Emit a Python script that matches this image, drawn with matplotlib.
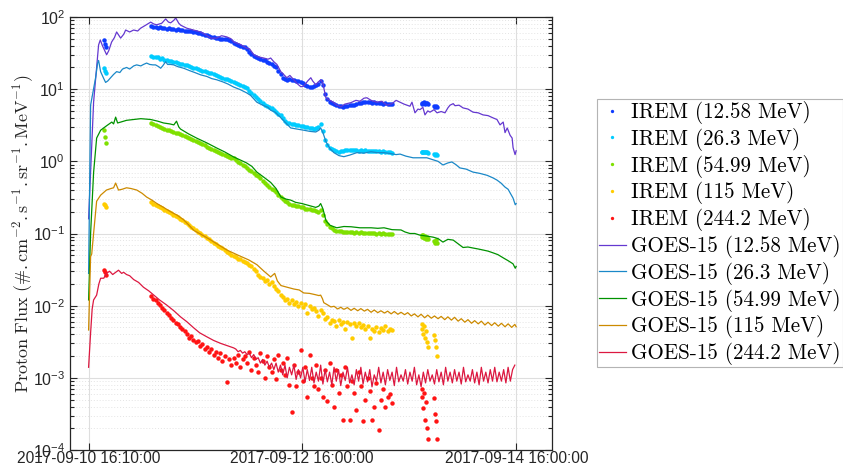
import numpy as np
import pandas as pd
import matplotlib
matplotlib.use("Agg")
import matplotlib.pyplot as plt
import matplotlib.dates as mdates
from matplotlib.ticker import LogLocator, LogFormatterSciNotation, NullFormatter, FixedLocator
from matplotlib.font_manager import FontProperties

plt.rcParams["font.family"] = "Liberation Sans"
plt.rcParams["mathtext.fontset"] = "custom"
plt.rcParams["mathtext.rm"] = "Liberation Sans"
plt.rcParams["mathtext.it"] = "Liberation Sans:italic"
plt.rcParams["mathtext.bf"] = "Liberation Sans:bold"

# time origin: 2017-09-10 16:10:00, all times below in hours from it
t0 = pd.Timestamp("2017-09-10 16:10:00")

# ---------------- IREM (shared sampling) ----------------
irem_hours = np.concatenate([[3.4, 3.6, 3.8],
                             np.arange(14.0, 68.25, 0.5),
                             [74.6, 74.8, 75.0, 75.2, 75.4, 75.6, 75.8, 76.0, 77.4, 77.6, 77.8, 78.0]])

irem_1258 = [48, 42, 38,
             74, 72, 73, 71, 72, 70, 71, 69, 70, 68,
             69, 67, 68, 66, 67, 65, 64, 63, 63, 61,
             62, 60, 60, 58, 57, 56, 55, 53, 53, 51,
             51, 50, 50, 49, 49, 48, 46, 44, 42, 41,
             40, 39, 38, 36, 33, 31, 29, 28, 27, 26,
             25, 25, 24, 23, 22, 21, 20, 18, 16, 14.5,
             14, 13.5, 13.8, 13.2, 13.5, 13, 12.8, 12.6, 12, 11.5,
             11.2, 10.8, 10.7, 11, 11.3, 11.8, 12.8, 11.5, 8.5, 7.3,
             6.7, 6.4, 6.2, 6.0, 5.8, 5.9, 5.7, 5.8, 5.9, 6.0,
             6.1, 6.0, 6.3, 6.4, 6.5, 6.6, 6.7, 6.6, 6.7, 6.5,
             6.6, 6.5, 6.4, 6.5, 6.3, 6.4, 6.2, 6.3, 6.2,
             6.3, 6.5, 6.4, 6.6, 6.3, 6.5, 6.4, 6.2, 5.8, 5.6, 5.9, 5.7]

irem_263 = [19.5, 18, 17,
            28.5, 28, 27.5, 27.8, 26.5, 26.8, 25.5, 25.5, 24.8, 24.5,
            24, 23.5, 23.2, 22.6, 22.3, 21.8, 21.3, 20.8, 20.3, 19.8,
            19.5, 18.9, 18.6, 18.1, 17.6, 17.3, 16.9, 16.5, 16.1, 15.8,
            15.3, 14.9, 14.5, 14.0, 13.7, 13.3, 12.9, 12.6, 12.1, 11.7,
            11.3, 10.9, 10.6, 10.3, 9.5, 8.8, 8.2, 7.8, 7.3, 6.9,
            6.5, 6.1, 5.8, 5.6, 5.4, 5.1, 4.8, 4.6, 4.4, 4.0,
            3.6, 3.4, 3.35, 3.3, 3.25, 3.2, 3.15, 3.1, 3.05, 3.0,
            2.95, 2.9, 2.9, 2.85, 2.9, 3.0, 3.3, 2.6, 2.0, 1.7,
            1.55, 1.48, 1.42, 1.38, 1.36, 1.38, 1.40, 1.42, 1.44, 1.43,
            1.45, 1.42, 1.44, 1.41, 1.43, 1.40, 1.42, 1.39, 1.40, 1.38,
            1.39, 1.37, 1.38, 1.36, 1.37, 1.35, 1.34, 1.33, 1.31,
            1.33, 1.35, 1.34, 1.36, 1.33, 1.35, 1.34, 1.32, 1.25, 1.23, 1.26, 1.24]

irem_5499 = [2.7, 2.2, 1.8,
             3.4, 3.3, 3.2, 3.1, 3.0, 2.9, 2.8, 2.75, 2.7, 2.65,
             2.55, 2.5, 2.45, 2.4, 2.35, 2.28, 2.2, 2.12, 2.05, 2.0,
             1.93, 1.87, 1.8, 1.73, 1.66, 1.6, 1.54, 1.48, 1.43, 1.38,
             1.33, 1.29, 1.25, 1.21, 1.18, 1.15, 1.13, 1.1, 1.04, 0.99,
             0.94, 0.9, 0.86, 0.82, 0.77, 0.73, 0.69, 0.65, 0.62, 0.58,
             0.54, 0.5, 0.47, 0.44, 0.42, 0.40, 0.37, 0.34, 0.32, 0.30,
             0.28, 0.27, 0.26, 0.25, 0.25, 0.24, 0.24, 0.23, 0.23, 0.22,
             0.22, 0.22, 0.21, 0.21, 0.205, 0.20, 0.21, 0.18, 0.15, 0.135,
             0.125, 0.118, 0.113, 0.11, 0.108, 0.107, 0.106, 0.105, 0.106, 0.104,
             0.105, 0.103, 0.104, 0.103, 0.104, 0.102, 0.103, 0.102, 0.101, 0.103,
             0.101, 0.100, 0.102, 0.100, 0.101, 0.099, 0.100, 0.099, 0.098,
             0.094, 0.090, 0.096, 0.088, 0.092, 0.085, 0.089, 0.083, 0.078, 0.074, 0.080, 0.075]

irem_115 = [0.26, 0.245, 0.23,
            0.27, 0.26, 0.25, 0.24, 0.235, 0.225, 0.215, 0.205, 0.20, 0.19,
            0.182, 0.175, 0.168, 0.16, 0.153, 0.146, 0.139, 0.132, 0.125, 0.118,
            0.112, 0.106, 0.101, 0.096, 0.091, 0.087, 0.083, 0.078, 0.074, 0.071,
            0.068, 0.065, 0.062, 0.059, 0.056, 0.054, 0.051, 0.049, 0.047, 0.045,
            0.044, 0.042, 0.040, 0.039, 0.037, 0.035, 0.032, 0.030, 0.027, 0.025,
            0.024, 0.022, 0.023, 0.020, 0.021, 0.019, 0.017, 0.016, 0.014, 0.013,
            0.012, 0.0125, 0.011, 0.0118, 0.0105, 0.0112, 0.0100, 0.0108, 0.0095, 0.0104,
            0.0078, 0.0098, 0.0090, 0.0093, 0.0085, 0.0072, 0.0088, 0.0078, 0.0066, 0.0070,
            0.0058, 0.0064, 0.0061, 0.0052, 0.0063, 0.0056, 0.0060, 0.0048, 0.0059, 0.0055,
            0.0036, 0.0057, 0.0053, 0.0058, 0.0050, 0.0054, 0.0047, 0.0052, 0.0036, 0.0048,
            0.0045, 0.0051, 0.0043, 0.0049, 0.0046, 0.0052, 0.0044, 0.0048, 0.0046,
            0.0055, 0.0047, 0.0041, 0.0052, 0.0036, 0.0044, 0.0031, 0.0027, 0.0039, 0.0033, 0.0027, 0.0020]

irem_2442 = [0.031, 0.029, 0.027,
             0.0135, 0.0125, 0.0118, 0.0108, 0.0102, 0.0094, 0.0086, 0.0080, 0.0074, 0.0068,
             0.0064, 0.0058, 0.0055, 0.0050, 0.0047, 0.0044, 0.0041, 0.0036, 0.0038, 0.0033,
             0.0031, 0.0032, 0.0028, 0.0029, 0.0025, 0.0027, 0.0023, 0.0025, 0.0021, 0.0023,
             0.0019, 0.0022, 0.0017, 0.0020, 0.00087, 0.0018, 0.0015, 0.0019, 0.0016, 0.0021,
             0.0014, 0.0018, 0.0020, 0.0016, 0.0023, 0.0013, 0.0019, 0.0015, 0.0012, 0.0022,
             0.0017, 0.0010, 0.0020, 0.0014, 0.0012, 0.0018, 0.00095, 0.0021, 0.0013, 0.0016,
             0.0011, 0.0019, 0.0008, 0.00034, 0.0015, 0.00076, 0.0012, 0.0024, 0.0009, 0.0014,
             0.00055, 0.0021, 0.0010, 0.00076, 0.0015, 0.0007, 0.0010, 0.00055, 0.0013, 0.00047,
             0.0016, 0.0008, 0.0004, 0.0013, 0.00062, 0.0011, 0.00026, 0.0014, 0.00076, 0.00026,
             0.0009, 0.00062, 0.00036, 0.0012, 0.00076, 0.00025, 0.00049, 0.0010, 0.00066, 0.00026,
             0.0004, 0.00085, 0.00019, 0.00049, 0.0007, 0.0004, 0.00055, 0.0006, 0.00045,
             0.00069, 0.00055, 0.00038, 0.00062, 0.00026, 0.00046, 0.00020, 0.00014, 0.00053, 0.00032, 0.00025, 0.00014]

# ---------------- GOES-15 (hour, flux) ----------------
goes_1258 = [(0, 0.16), (1.12, 6.6), (2.24, 41), (2.62, 48), (3.1, 40), (4.04, 30), (4.5, 34), (5.16, 45),
             (5.8, 52), (6.28, 62), (7.18, 51), (7.9, 58), (8.3, 66), (9.2, 62), (10.09, 66), (11.0, 64),
             (11.66, 70), (12.79, 77), (13.91, 85), (14.6, 80), (15.25, 78), (16.4, 82), (17.27, 94),
             (17.9, 85), (18.39, 83), (19.1, 90), (19.52, 97), (20.2, 82), (20.64, 77), (21.98, 70),
             (23.5, 66), (25.12, 62), (26.2, 57), (27.37, 51), (28.71, 51), (29.8, 55), (30.96, 53),
             (31.9, 50), (32.53, 45), (33.9, 42), (35.44, 37), (36.1, 36), (37.01, 30), (38.1, 28),
             (39.25, 27), (40.2, 26), (40.8, 27), (41.5, 24), (42.2, 22), (43.07, 17.5), (43.7, 16),
             (44.41, 14.4), (45.1, 15.5), (45.98, 13.5), (46.7, 12), (47.55, 10.8), (48.2, 11),
             (49.1, 13), (49.79, 14.4), (50.2, 13), (50.91, 11.5), (51.4, 12.5), (52.04, 13.5),
             (52.5, 12), (53.16, 7.6), (54.1, 7), (54.96, 6.5), (55.6, 6.0), (56.53, 5.7), (57.4, 6.2),
             (58.77, 6.5), (59.9, 7), (60.8, 6.8), (61.7, 7.5), (62.36, 7.6), (63.3, 7.0), (64.6, 6.6),
             (65.7, 6.8), (66.85, 6.0), (68.0, 6.3), (68.9, 7), (69.99, 6.5), (70.7, 6.2), (71.34, 6.0),
             (72.0, 5.8), (72.46, 6.6), (73.13, 4.7), (73.8, 5.3), (74.25, 5.2), (74.9, 5.6),
             (75.37, 4.4), (76.0, 5.0), (76.49, 4.8), (77.4, 5.2), (78.07, 4.7), (79.0, 4.9),
             (79.86, 4.7), (80.5, 5.5), (80.98, 6.0), (81.7, 6.3), (82.1, 5.9), (83.0, 6.0), (83.9, 5.5),
             (85.0, 5.3), (86.14, 4.8), (87.3, 4.7), (88.38, 4.4), (89.5, 4.3), (90.62, 4.0), (91.5, 3.8),
             (92.19, 3.2), (92.9, 3.5), (93.31, 2.5), (93.8, 2.9), (94.44, 2.3), (94.9, 2.1),
             (95.11, 1.55), (95.56, 1.24), (95.8, 1.4)]

goes_263 = [(0, 0.028), (0.45, 6.0), (1.57, 14.4), (2.02, 23), (2.24, 25), (2.69, 17.5), (3.4, 14),
            (3.81, 12.4), (4.3, 13), (4.93, 14.4), (5.6, 16), (6.28, 17.5), (7.0, 17), (7.6, 19),
            (8.52, 20), (9.2, 19), (10.1, 21), (10.77, 21.7), (11.7, 21), (12.3, 22), (13.0, 23),
            (13.7, 22), (14.4, 21.7), (15.0, 21.7), (15.7, 20.5), (16.15, 19.5), (16.6, 21), (17.27, 24),
            (17.7, 22), (18.4, 22), (19.07, 21.7), (20.0, 20.5), (21.3, 19.5), (22.7, 18), (23.8, 17),
            (25.1, 15.8), (26.5, 15), (27.6, 14), (28.7, 13.5), (30.1, 12.6), (31.2, 11.8), (32.5, 10.7),
            (33.9, 9.9), (35.4, 8.9), (36.3, 8.2), (37.7, 6.6), (39.0, 6.0), (40.2, 5.6), (40.8, 5.1),
            (41.8, 4.8), (43.1, 4.0), (44.2, 3.4), (45.3, 2.9), (46.7, 2.8), (48.2, 2.7), (49.6, 2.6),
            (50.9, 2.55), (51.6, 2.7), (52.0, 2.9), (52.5, 2.5), (53.2, 1.86), (54.1, 1.5), (54.96, 1.32),
            (56.1, 1.2), (57.2, 1.16), (58.5, 1.22), (60.1, 1.32), (61.7, 1.3), (63.3, 1.36), (64.6, 1.32),
            (66.2, 1.32), (67.7, 1.28), (68.9, 1.24), (69.8, 1.26), (71.1, 1.18), (72.7, 1.12),
            (74.2, 1.12), (75.8, 1.12), (77.2, 1.05), (78.3, 1.0), (79.4, 0.89), (80.5, 0.95),
            (81.4, 0.98), (82.3, 0.9), (83.2, 0.81), (84.6, 0.78), (86.1, 0.71), (87.7, 0.68),
            (89.3, 0.64), (90.6, 0.59), (91.5, 0.55), (92.4, 0.50), (93.3, 0.44), (94.0, 0.41),
            (94.4, 0.37), (95.1, 0.31), (95.6, 0.25), (95.8, 0.26)]

goes_5499 = [(0, 0.012), (0.45, 0.1), (1.12, 0.7), (1.8, 2.1), (2.7, 2.7), (4.0, 3.1), (5.2, 3.5), (5.6, 3.3),
             (6.06, 4.1), (6.5, 3.4), (7.2, 3.5), (8.5, 3.7), (10.1, 3.8), (11.7, 3.9), (13.9, 3.8),
             (15.5, 3.6), (16.8, 3.4), (18.2, 3.3), (19.1, 3.2), (19.7, 3.6), (20.2, 3.0), (20.6, 2.8),
             (22.4, 2.4), (24.2, 2.1), (26.5, 1.8), (28.7, 1.53), (30.5, 1.35), (32.5, 1.15), (33.9, 1.05),
             (35.4, 0.95), (36.6, 0.85), (37.7, 0.71), (39.3, 0.6), (40.8, 0.51), (42.0, 0.42), (43.1, 0.32),
             (44.2, 0.3), (45.3, 0.29), (46.4, 0.27), (47.8, 0.26), (49.3, 0.245), (50.9, 0.23),
             (51.6, 0.24), (52.0, 0.26), (52.5, 0.22), (53.2, 0.15), (54.1, 0.13), (55.6, 0.12),
             (57.2, 0.125), (58.8, 0.124), (60.8, 0.12), (63.3, 0.12), (64.8, 0.118), (66.2, 0.12),
             (68.0, 0.113), (70.0, 0.112), (70.9, 0.105), (72.0, 0.10), (73.1, 0.1), (74.2, 0.095),
             (75.8, 0.092), (77.2, 0.089), (78.3, 0.085), (79.4, 0.076), (80.5, 0.083), (81.7, 0.081),
             (82.8, 0.072), (83.9, 0.064), (85.0, 0.065), (86.1, 0.063), (87.3, 0.061), (88.4, 0.059),
             (89.5, 0.057), (90.6, 0.054), (91.7, 0.051), (92.9, 0.046), (94.0, 0.042), (95.1, 0.038),
             (95.6, 0.033), (95.8, 0.035)]

goes_115 = [(0, 0.0046), (0.45, 0.048), (0.7, 0.052), (1.12, 0.1), (1.8, 0.28), (2.7, 0.34), (4.0, 0.40),
            (5.0, 0.42), (5.6, 0.43), (6.06, 0.50), (6.7, 0.40), (7.5, 0.41), (8.5, 0.43), (9.5, 0.42),
            (10.8, 0.40), (12.0, 0.36), (13.0, 0.32), (14.2, 0.29), (15.3, 0.26), (16.8, 0.23),
            (18.4, 0.20), (19.8, 0.18), (21.3, 0.155), (22.5, 0.13), (23.6, 0.11), (25.5, 0.095),
            (27.4, 0.081), (29.2, 0.069), (31.0, 0.059), (33.5, 0.050), (35.9, 0.043), (37.7, 0.037),
            (39.3, 0.030), (40.8, 0.025), (41.4, 0.027), (41.7, 0.028), (42.3, 0.022), (43.1, 0.019),
            (44.5, 0.018), (46.0, 0.017), (47.2, 0.0165), (48.2, 0.015), (49.5, 0.0148), (50.8, 0.0142),
            (51.6, 0.0138), (52.0, 0.014), (52.4, 0.0125), (52.7, 0.011), (53.5, 0.0103), (54.3, 0.0096),
            (55.0, 0.0098), (55.8, 0.0090), (56.5, 0.0095), (57.2, 0.0089), (58.0, 0.0094), (58.8, 0.0086),
            (59.5, 0.0092), (60.3, 0.0085), (61.0, 0.0091), (61.8, 0.0084), (62.5, 0.0089), (63.3, 0.0081),
            (64.0, 0.0087), (64.8, 0.0080), (65.5, 0.0085), (66.3, 0.0079), (67.0, 0.0084), (67.8, 0.0077),
            (68.5, 0.0083), (69.3, 0.0076), (70.0, 0.0081), (70.8, 0.0075), (71.5, 0.0080), (72.3, 0.0072),
            (73.0, 0.0077), (73.8, 0.0070), (74.5, 0.0076), (75.3, 0.0068), (76.0, 0.0074), (76.8, 0.0067),
            (77.5, 0.0072), (78.3, 0.0066), (79.0, 0.0071), (79.8, 0.0064), (80.5, 0.0070), (81.3, 0.0063),
            (82.0, 0.0069), (82.8, 0.0061), (83.5, 0.0066), (84.3, 0.0059), (85.0, 0.0064), (85.8, 0.0057),
            (86.5, 0.0062), (87.3, 0.0056), (88.0, 0.0061), (88.8, 0.0054), (89.5, 0.0059), (90.3, 0.0053),
            (91.0, 0.0058), (91.8, 0.0052), (92.5, 0.0057), (93.3, 0.0051), (94.0, 0.0056), (94.8, 0.0050),
            (95.5, 0.0055), (95.8, 0.0051)]

goes_2442_head = [(0, 0.0014), (0.45, 0.0042), (0.8, 0.009), (1.12, 0.012), (1.8, 0.014), (2.3, 0.02),
                  (2.7, 0.024), (3.4, 0.024), (4.0, 0.028), (4.7, 0.030), (5.4, 0.027), (6.06, 0.029),
                  (6.7, 0.031), (7.4, 0.028), (7.85, 0.029), (8.5, 0.027), (9.2, 0.026), (10.1, 0.023),
                  (11.2, 0.021), (12.3, 0.018), (13.5, 0.016), (14.6, 0.014), (15.9, 0.012), (17.5, 0.0102),
                  (19.1, 0.0085), (20.6, 0.0070), (22.0, 0.006), (23.6, 0.0049), (24.9, 0.0042),
                  (26.5, 0.0037), (28.0, 0.0033), (29.6, 0.0030), (31.0, 0.0028), (32.5, 0.0026)]
# half-hourly from 33.0 h to 95.5 h
goes_2442_tail = [0.0025, 0.0023, 0.0024, 0.0022, 0.0023, 0.0021, 0.0022, 0.0019, 0.0021, 0.0018,
                  0.0019, 0.0016, 0.0018, 0.0015, 0.0017, 0.0014, 0.0016, 0.0013, 0.0016, 0.0012,
                  0.0015, 0.0011, 0.0015, 0.0010, 0.0014, 0.0011, 0.0015, 0.00095, 0.0013, 0.0010,
                  0.0014, 0.00088, 0.0013, 0.00092, 0.0014, 0.00085, 0.0012, 0.0009, 0.0015, 0.00082,
                  0.0013, 0.00088, 0.0012, 0.0008, 0.0014, 0.0009, 0.0013, 0.00078, 0.0012, 0.00092,
                  0.0014, 0.00085, 0.0011, 0.0008, 0.0013, 0.0009, 0.0014, 0.00082, 0.0012, 0.00088,
                  0.0013, 0.00075, 0.0011, 0.0009, 0.0014, 0.00085, 0.0012, 0.0008, 0.0013, 0.00092,
                  0.0012, 0.00078, 0.0014, 0.00088, 0.0011, 0.0009, 0.0013, 0.00082, 0.0012, 0.0009,
                  0.0014, 0.0008, 0.0011, 0.00075, 0.0012, 0.00085, 0.0013, 0.0009, 0.0011, 0.00082,
                  0.0013, 0.00088, 0.0012, 0.0008, 0.0014, 0.0009, 0.0012, 0.00085, 0.0013, 0.0009,
                  0.0012, 0.00082, 0.0014, 0.00088, 0.0011, 0.0009, 0.0013, 0.00085, 0.0012, 0.0008,
                  0.0014, 0.0009, 0.0012, 0.00085, 0.0013, 0.0009, 0.0014, 0.00088, 0.0012, 0.0009,
                  0.0013, 0.00085, 0.0014, 0.0009, 0.0013, 0.0015]
goes_2442_tail_hours = np.arange(33.0, 96.0, 0.5)

energies = ["12.58", "26.3", "54.99", "115", "244.2"]
irem_colors = ["#0f3cff", "#00ccff", "#7fe000", "#ffcc00", "#ff1414"]
goes_colors = ["#6438d0", "#1a88c8", "#009200", "#cc8a00", "#dc1840"]


def to_time(hours):
    return t0 + pd.to_timedelta(np.asarray(hours, dtype=float), unit="h")


fig = plt.figure(figsize=(8.43, 4.74), dpi=100)
ax = fig.add_axes([70 / 843, 24 / 474, 482 / 843, 433 / 474])

irem_series = [irem_1258, irem_263, irem_5499, irem_115, irem_2442]
irem_time = to_time(irem_hours)
for e, vals, c in zip(energies, irem_series, irem_colors):
    ax.plot(irem_time, vals, ls="none", marker="o", ms=3.2, mew=0, color=c,
            label=f"IREM ({e} MeV)")

g2442_h = [h for h, v in goes_2442_head] + list(goes_2442_tail_hours)
g2442_v = [v for h, v in goes_2442_head] + goes_2442_tail
goes_series = [list(zip(*goes_1258)), list(zip(*goes_263)), list(zip(*goes_5499)),
               list(zip(*goes_115)), (g2442_h, g2442_v)]
for e, (hh, vv), c in zip(energies, goes_series, goes_colors):
    ax.plot(to_time(hh), vv, lw=0.9, color=c, label=f"GOES-15 ({e} MeV)")

ax.set_yscale("log")
ax.set_ylim(1e-4, 1e2)
ax.yaxis.set_major_locator(LogLocator(base=10, numticks=10))
ax.yaxis.set_minor_locator(LogLocator(base=10, subs=np.arange(2, 10), numticks=20))
ax.yaxis.set_major_formatter(LogFormatterSciNotation())
ax.yaxis.set_minor_formatter(NullFormatter())

ax.set_xlim(pd.Timestamp("2017-09-10 12:00:00"), pd.Timestamp("2017-09-15 00:00:00"))
xticks = [t0, pd.Timestamp("2017-09-12 16:00:00"), pd.Timestamp("2017-09-14 16:00:00")]
ax.xaxis.set_major_locator(FixedLocator(mdates.date2num(xticks)))
ax.xaxis.set_major_formatter(mdates.DateFormatter("%Y-%m-%d %H:%M:%S"))

ax.set_axisbelow(True)
ax.grid(which="major", color="#dedede", lw=0.8)
ax.grid(which="minor", axis="y", color="#e4e4e4", lw=0.7, ls=(0, (1, 2)))

for s in ax.spines.values():
    s.set_color("#262626")
    s.set_linewidth(0.9)
ax.tick_params(which="both", direction="in", top=True, right=True, colors="#262626", width=0.8)
ax.tick_params(axis="y", labelsize=11.5)
ax.tick_params(axis="x", labelsize=11.2, pad=0.5)
ax.tick_params(which="major", length=5)
ax.tick_params(which="minor", length=3)

ax.set_ylabel(r"$\mathrm{Proton\ Flux\ (\#.cm^{-2}.s^{-1}.sr^{-1}.MeV^{-1})}$",
              fontsize=13, math_fontfamily="cm", color="#262626")
ax.yaxis.set_label_coords(-0.071, 0.5)

leg = ax.legend(loc="center left", bbox_to_anchor=(597 / 843, 1 - 233 / 474),
                bbox_transform=fig.transFigure, prop=FontProperties(family="cmr10", size=15.2),
                frameon=True, fancybox=False, edgecolor="#b4b4b4", framealpha=1,
                borderpad=0.08, labelspacing=0.18, handlelength=1.3, handletextpad=0.25,
                borderaxespad=0, numpoints=1, markerscale=0.75)
leg.get_frame().set_linewidth(0.8)

fig.savefig("out.png", dpi=100)
